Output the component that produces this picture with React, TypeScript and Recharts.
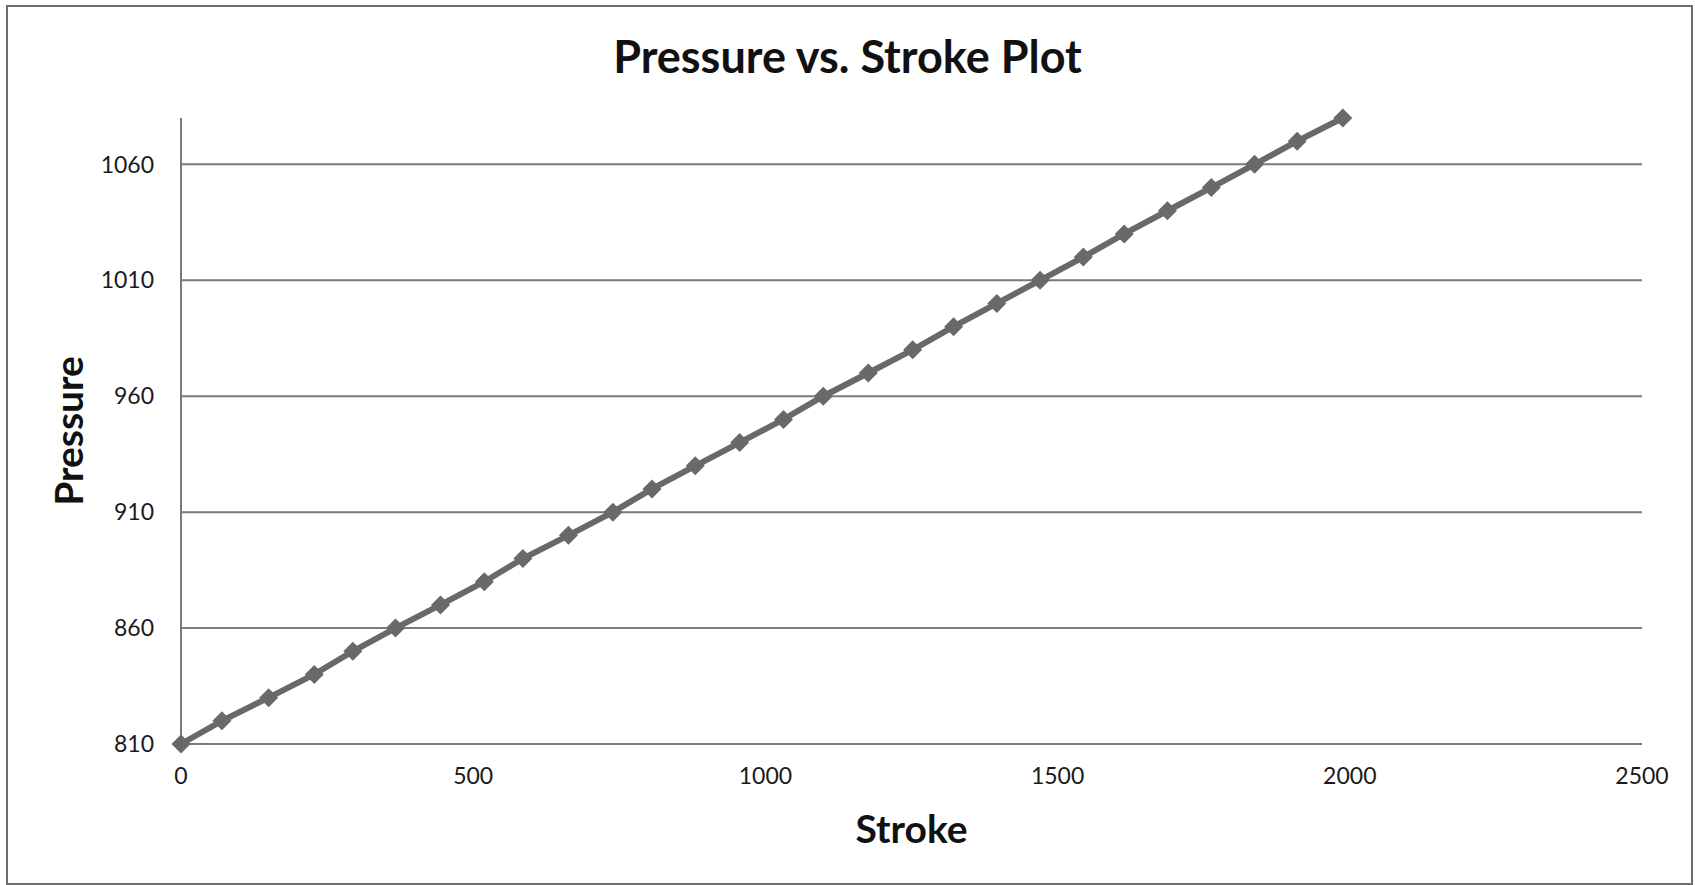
import { LineChart, Line, XAxis, YAxis, CartesianGrid } from 'recharts'

// values
const strokeValues = [0, 70, 150, 228, 294, 367, 444, 519, 585, 663, 739, 806, 880, 956, 1031, 1099, 1176, 1252, 1322, 1396, 1470, 1544, 1614, 1688, 1763, 1837, 1910, 1988]
const pressureValues = [810, 820, 830, 840, 850, 860, 870, 880, 890, 900, 910, 920, 930, 940, 950, 960, 970, 980, 990, 1000, 1010, 1020, 1030, 1040, 1050, 1060, 1070, 1080]
const xTicks = [0, 500, 1000, 1500, 2000, 2500]
const yTicks = [810, 860, 910, 960, 1010, 1060]

const data = strokeValues.map((s, i) => ({ stroke: s, pressure: pressureValues[i] }))

const FONT = 'Lato, "Open Sans", sans-serif'
const GRID = '#7a7a7a'
const SERIES = '#696969'

const Diamond = ({ cx, cy }: any) => {
  if (cx == null || cy == null) return null
  const r = 9.5
  return <path d={`M${cx},${cy - r}L${cx + r},${cy}L${cx},${cy + r}L${cx - r},${cy}Z`} fill={SERIES} stroke="none" />
}

export default function App() {
  return (
    <div style={{ position: 'absolute', left: 0, top: 0, width: 1695, height: 885, background: '#fff', fontFamily: FONT }}>
      <div style={{ position: 'absolute', left: 6, top: 5, width: 1683, height: 876, border: '2px solid #6e6e6e' }} />
      <div style={{ position: 'absolute', left: 0, top: 30, width: 1695, textAlign: 'center', fontSize: 45, fontWeight: 700, color: '#111', lineHeight: '52px' }}>
        Pressure vs. Stroke Plot
      </div>
      <div style={{ position: 'absolute', left: 0, top: 0 }}>
        <LineChart width={1695} height={885} data={data} margin={{ top: 118, right: 53, bottom: 0, left: 0 }}>
          <CartesianGrid vertical={false} horizontalValues={yTicks} stroke={GRID} strokeWidth={2} />
          <XAxis
            dataKey="stroke"
            type="number"
            domain={[0, 2500]}
            ticks={xTicks}
            height={141}
            tickLine={false}
            tickSize={0}
            tickMargin={24}
            axisLine={{ stroke: GRID, strokeWidth: 2 }}
            tick={{ fontSize: 23, fill: '#1a1a1a', fontFamily: FONT }}
            label={{ value: 'Stroke', position: 'center', dy: 15, fontSize: 39, fontWeight: 700, fill: '#111', fontFamily: FONT }}
          />
          <YAxis
            type="number"
            domain={[810, 1080]}
            ticks={yTicks}
            width={181}
            tickLine={false}
            tickSize={0}
            tickMargin={27}
            axisLine={{ stroke: GRID, strokeWidth: 2 }}
            tick={{ fontSize: 23, fill: '#1a1a1a', fontFamily: FONT }}
            label={{ value: 'Pressure', position: 'center', angle: -90, dx: -21, fontSize: 39, fontWeight: 700, fill: '#111', fontFamily: FONT }}
          />
          <Line
            type="linear"
            dataKey="pressure"
            stroke={SERIES}
            strokeWidth={6}
            dot={<Diamond />}
            activeDot={false}
            isAnimationActive={false}
          />
        </LineChart>
      </div>
    </div>
  )
}
